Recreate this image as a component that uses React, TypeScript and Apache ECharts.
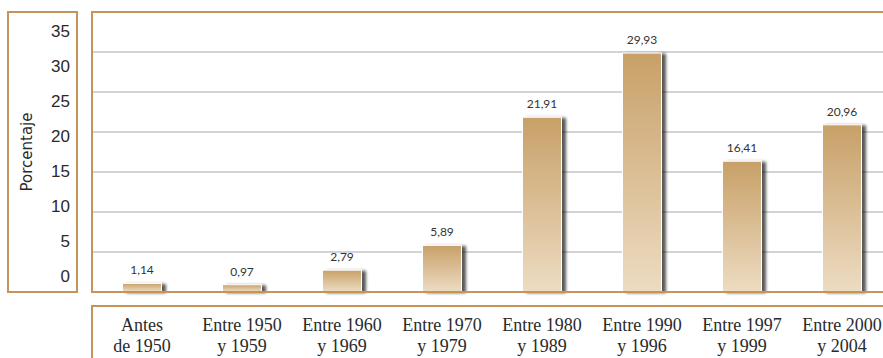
import React, { useEffect, useRef } from "react";
import * as echarts from "echarts";

const categories = [
  "Antes\nde 1950",
  "Entre 1950\ny 1959",
  "Entre 1960\ny 1969",
  "Entre 1970\ny 1979",
  "Entre 1980\ny 1989",
  "Entre 1990\ny 1996",
  "Entre 1997\ny 1999",
  "Entre 2000\ny 2004",
];
const values = [1.14, 0.97, 2.79, 5.89, 21.91, 29.93, 16.41, 20.96];
const yTitle = "Porcentaje";
const yMin = 0;
const yMax = 35;
const yStep = 5;

const ORANGE = "#c69556";

export default function App() {
  const ref = useRef<HTMLDivElement>(null);
  useEffect(() => {
    if (!ref.current) return;
    const chart = echarts.init(ref.current, undefined, { renderer: "svg" });
    chart.setOption({
      animation: false,
      backgroundColor: "#ffffff",
      grid: [
        { left: 92, top: 12, width: 800, height: 280, containLabel: false },
        { left: 72, top: 31, width: 1, height: 245, containLabel: false },
      ],
      xAxis: [
        {
          type: "category",
          gridIndex: 0,
          data: categories,
          axisLine: { show: false },
          axisTick: { show: false },
          axisLabel: {
            margin: 22,
            fontFamily: "Liberation Serif",
            fontSize: 18,
            lineHeight: 21,
            color: "#2a2a2a",
            interval: 0,
          },
        },
        { type: "value", gridIndex: 1, show: false },
      ],
      yAxis: [
        {
          type: "value",
          gridIndex: 0,
          min: yMin,
          max: yMax,
          interval: yStep,
          axisLabel: { show: false },
          axisLine: { show: false },
          axisTick: { show: false },
          splitLine: { lineStyle: { color: "#c4c4c4", width: 1.5 } },
        },
        {
          type: "value",
          gridIndex: 1,
          min: yMin,
          max: yMax,
          interval: yStep,
          axisLine: { show: false },
          axisTick: { show: false },
          splitLine: { show: false },
          axisLabel: {
            margin: 2,
            fontFamily: "Liberation Sans Narrow, Liberation Sans",
            fontSize: 17,
            color: "#2a2a2a",
          },
        },
      ],
      graphic: [
        {
          type: "rect",
          shape: { x: 8, y: 12, width: 69, height: 280 },
          style: { fill: "none", stroke: ORANGE, lineWidth: 2 },
          z: 10,
        },
        {
          type: "rect",
          shape: { x: 92, y: 12, width: 820, height: 280 },
          style: { fill: "none", stroke: ORANGE, lineWidth: 2 },
          z: 10,
        },
        {
          type: "rect",
          shape: { x: 92, y: 306, width: 820, height: 100 },
          style: { fill: "none", stroke: ORANGE, lineWidth: 2 },
          z: 10,
        },
        {
          type: "text",
          x: 27,
          y: 152,
          rotation: Math.PI / 2,
          style: {
            text: yTitle,
            fontFamily: "DejaVu Sans",
            fontSize: 15,
            fill: "#2a2a2a",
            align: "center",
            verticalAlign: "middle",
          },
          z: 10,
        },
      ],
      series: [
        {
          type: "bar",
          xAxisIndex: 0,
          yAxisIndex: 0,
          data: values,
          barWidth: 40,
          itemStyle: {
            color: new echarts.graphic.LinearGradient(0, 0, 0, 1, [
              { offset: 0, color: "#c8a068" },
              { offset: 1, color: "#eddcc2" },
            ]),
            borderColor: "#ffffff",
            borderWidth: 1,
            shadowColor: "rgba(0,0,0,0.65)",
            shadowOffsetX: 4,
            shadowOffsetY: 1,
            shadowBlur: 3,
          },
          label: {
            show: true,
            position: "top",
            distance: 7,
            fontFamily: "Lato",
            fontSize: 12,
            color: "#333333",
            formatter: (p: any) => p.value.toFixed(2).replace(".", ","),
          },
        },
      ],
    });
    return () => chart.dispose();
  }, []);
  return (
    <div
      style={{
        position: "absolute",
        left: 0,
        top: 0,
        width: 883,
        height: 358,
        overflow: "hidden",
      }}
    >
      <div ref={ref} style={{ width: 920, height: 358 }} />
    </div>
  );
}
